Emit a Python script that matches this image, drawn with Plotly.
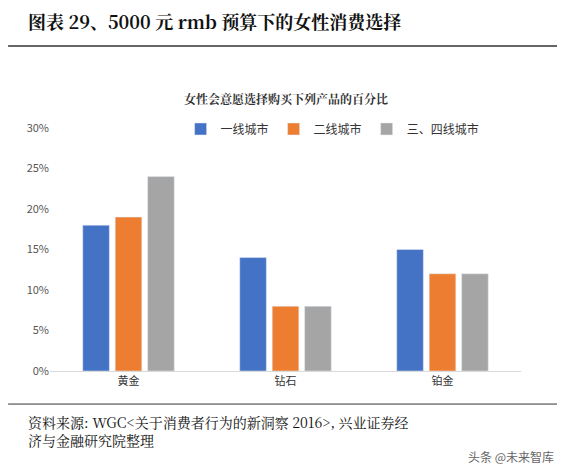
import plotly.graph_objects as go

categories = ["黄金", "钻石", "铂金"]
series_names = ["一线城市", "二线城市", "三、四线城市"]
tier1 = [18, 14, 15]
tier2 = [19, 8, 12]
tier34 = [24, 8, 12]
colors = ["#4472C4", "#ED7D31", "#A5A5A5"]

fig = go.Figure()
for name, vals, c in zip(series_names, [tier1, tier2, tier34], colors):
    fig.add_bar(x=categories, y=[v / 100 for v in vals], name=name, marker_color=c)

serif = "Noto Serif CJK SC, Noto Sans CJK SC, serif"
fig.update_layout(
    width=565, height=473, margin=dict(l=42, r=52, t=120, b=110),
    paper_bgcolor="white", plot_bgcolor="white",
    barmode="group", bargap=0.38, bargroupgap=0.18,
    font=dict(family="Noto Sans CJK SC", size=11, color="#333"),
    legend=dict(orientation="h", x=0.6, xanchor="center", y=0.996, yanchor="middle",
                font=dict(size=12), bgcolor="rgba(0,0,0,0)"),
    yaxis=dict(range=[0, 0.3], dtick=0.05, tickformat=".0%", showgrid=False,
               showline=False, ticks="", tickfont=dict(size=11, color="#555")),
    xaxis=dict(showline=True, linecolor="#d9d9d9", ticks="", tickfont=dict(size=11)),
    showlegend=True,
)
fig.add_annotation(x=-0.051, y=1.44, xref="paper", yref="paper", yanchor="middle", xanchor="left",
                   showarrow=False,
                   text="<b>图表 29、5000 元 rmb 预算下的女性消费选择</b>",
                   font=dict(size=18, color="#111", family=serif))
fig.add_annotation(x=0.5, y=1.123, xref="paper", yref="paper", yanchor="middle",
                   showarrow=False,
                   text="<b>女性会意愿选择购买下列产品的百分比</b>",
                   font=dict(size=12, color="#333", family=serif))
fig.add_shape(type="line", xref="paper", yref="paper", x0=-0.089, x1=1.11,
              y0=1.337, y1=1.337, line=dict(color="#333", width=1.5))
fig.add_shape(type="line", xref="paper", yref="paper", x0=-0.089, x1=1.11,
              y0=-0.136, y1=-0.136, line=dict(color="#333", width=1))
fig.add_annotation(x=-0.051, y=-0.16, xref="paper", yref="paper", xanchor="left", yanchor="top",
                   showarrow=False, align="left",
                   text="资料来源: WGC<关于消费者行为的新洞察 2016>, 兴业证券经<br>济与金融研究院整理",
                   font=dict(size=14, color="#111", family=serif))
fig.add_annotation(x=1.075, y=-0.31, xref="paper", yref="paper", xanchor="right", yanchor="top",
                   showarrow=False, text="头条 @未来智库",
                   font=dict(size=12, color="#666"))
fig.write_html("out.html")
